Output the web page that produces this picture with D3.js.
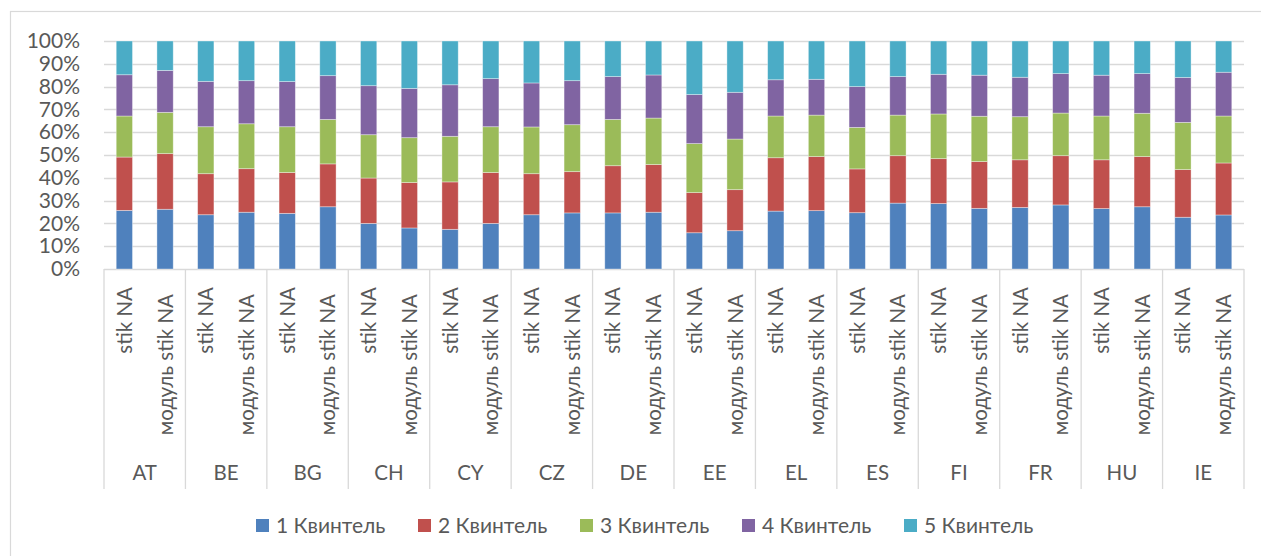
<!DOCTYPE html>
<html>
<head>
<meta charset="utf-8">
<script src="https://cdn.jsdelivr.net/npm/d3@7"></script>
<style>
  html, body { margin: 0; padding: 0; background: #ffffff; }
  svg { display: block; }
  text { font-family: Lato, "Open Sans", sans-serif; fill: #595959; }
</style>
</head>
<body>
<svg id="chart" width="1261" height="556"></svg>
<script>
// Countries (outer category level) and the two measures per country (inner level)
const countries = ["AT", "BE", "BG", "CH", "CY", "CZ", "DE", "EE", "EL", "ES", "FI", "FR", "HU", "IE"];
const measures = ["stik NA", "модуль stik NA"];
const quintiles = ["1 Квинтель", "2 Квинтель", "3 Квинтель", "4 Квинтель", "5 Квинтель"];
const yTicks = [0, 0.1, 0.2, 0.3, 0.4, 0.5, 0.6, 0.7, 0.8, 0.9, 1.0];

// Share of each quintile (%), ordered country by country: stik NA, модуль stik NA
const q1 = [25.7, 26.2, 23.8, 24.9, 24.4, 27.3, 20.0, 18.0, 17.4, 20.0, 23.8, 24.6, 24.6, 24.9,
            15.9, 16.8, 25.4, 25.6, 24.7, 28.9, 28.7, 26.6, 27.0, 28.1, 26.5, 27.3, 22.7, 23.7];
const q2 = [23.4, 24.4, 18.0, 19.1, 17.9, 18.8, 19.9, 19.9, 20.8, 22.3, 18.0, 18.1, 20.7, 20.9,
            17.6, 18.0, 23.4, 23.7, 19.2, 20.8, 19.7, 20.5, 20.9, 21.6, 21.4, 22.0, 20.9, 22.8];
const q3 = [18.0, 18.1, 20.6, 19.7, 20.1, 19.5, 19.0, 19.7, 20.0, 20.1, 20.5, 20.6, 20.3, 20.4,
            21.5, 22.2, 18.3, 18.2, 18.2, 17.8, 19.6, 19.9, 18.9, 18.7, 19.2, 19.0, 20.7, 20.6];
const q4 = [18.1, 18.4, 19.9, 18.9, 19.8, 19.2, 21.5, 21.6, 22.6, 21.1, 19.3, 19.3, 18.8, 18.9,
            21.5, 20.5, 15.9, 15.7, 17.9, 16.9, 17.4, 18.0, 17.3, 17.3, 17.9, 17.4, 19.7, 19.2];
const q5 = [14.8, 12.9, 17.7, 17.4, 17.8, 15.2, 19.6, 20.8, 19.2, 16.5, 18.4, 17.4, 15.6, 14.9,
            23.5, 22.5, 17.0, 16.8, 20.0, 15.6, 14.6, 15.0, 15.9, 14.3, 15.0, 14.3, 16.0, 13.7];

const colors = ["#4F81BD", "#C0504D", "#9BBB59", "#8064A2", "#4BACC6"];

// Build one row per bar
const series = [q1, q2, q3, q4, q5];
const rows = [];
countries.forEach((c, ci) => {
  measures.forEach((m, mi) => {
    const i = ci * measures.length + mi;
    const row = { country: c, measure: m };
    const total = d3.sum(series, s => s[i]);
    quintiles.forEach((q, qi) => { row[q] = series[qi][i] / total; });
    rows.push(row);
  });
});

const svg = d3.select("#chart");

// Plot area
const plot = { left: 104, right: 1244, top: 41, bottom: 269 };

// Chart frame
svg.append("rect")
  .attr("x", 10.5).attr("y", 11.5)
  .attr("width", 1300).attr("height", 600)
  .attr("fill", "none").attr("stroke", "#d9d9d9").attr("stroke-width", 1.2);

const x0 = d3.scaleBand().domain(countries).range([plot.left, plot.right]).padding(0);
const x1 = d3.scaleBand().domain(measures).range([0, x0.bandwidth()])
  .paddingInner(0.6).paddingOuter(0.3);
const y = d3.scaleLinear().domain([0, 1]).range([plot.bottom, plot.top]);

// Horizontal gridlines
svg.append("g")
  .selectAll("line")
  .data(yTicks)
  .join("line")
  .attr("x1", plot.left).attr("x2", plot.right)
  .attr("y1", d => Math.round(y(d)) + 0.5).attr("y2", d => Math.round(y(d)) + 0.5)
  .attr("stroke", "#d9d9d9").attr("stroke-width", 1.3);

// Y axis labels
const yAxis = d3.axisLeft(y).tickValues(yTicks).tickFormat(d3.format(".0%")).tickSize(0).tickPadding(0);
const yg = svg.append("g").attr("transform", `translate(${plot.left - 24},0)`).call(yAxis);
yg.select(".domain").remove();
yg.selectAll("text").attr("font-size", 21).style("font-family", "Lato, sans-serif").attr("fill", "#595959");

// Stacked bars
const stack = d3.stack().keys(quintiles);
const stacked = stack(rows);

svg.append("g")
  .selectAll("g")
  .data(stacked)
  .join("g")
  .attr("fill", (d, i) => colors[i])
  .selectAll("rect")
  .data(d => d)
  .join("rect")
  .attr("x", d => x0(d.data.country) + x1(d.data.measure))
  .attr("width", x1.bandwidth())
  .attr("y", d => y(d[1]))
  .attr("height", d => y(d[0]) - y(d[1]))
  .attr("stroke", "rgba(255,255,255,0.45)")
  .attr("stroke-width", 0.8);

// Category axis: group separators
const sepBottom = 489;
const bounds = countries.map(c => x0(c)).concat([plot.right]);
svg.append("g")
  .selectAll("line")
  .data(bounds)
  .join("line")
  .attr("x1", d => d).attr("x2", d => d)
  .attr("y1", plot.bottom).attr("y2", sepBottom)
  .attr("stroke", "#d9d9d9").attr("stroke-width", 1.3);

// Inner labels (rotated)
const measureEnd = { "stik NA": 287, "модуль stik NA": 294 };
const inner = svg.append("g");
rows.forEach(r => {
  const cx = x0(r.country) + x1(r.measure) + x1.bandwidth() / 2;
  const ty = measureEnd[r.measure];
  inner.append("text")
    .attr("transform", `translate(${cx + 7.5},${ty}) rotate(-90)`)
    .attr("text-anchor", "end")
    .attr("font-size", 20.5)
    .text(r.measure);
});

// Outer labels (countries)
svg.append("g")
  .selectAll("text")
  .data(countries)
  .join("text")
  .attr("x", d => x0(d) + x0.bandwidth() / 2)
  .attr("y", 473)
  .attr("dy", "0.35em")
  .attr("text-anchor", "middle")
  .attr("font-size", 20.5)
  .text(d => d);

// Legend
const legend = svg.append("g");
const legendStart = 256, legendStep = 162, legendY = 519;
quintiles.forEach((q, i) => {
  const g = legend.append("g").attr("transform", `translate(${legendStart + i * legendStep},${legendY})`);
  g.append("rect").attr("width", 13).attr("height", 13).attr("fill", colors[i]);
  g.append("text").attr("x", 20).attr("y", 7).attr("dy", "0.35em").attr("font-size", 21).text(q);
});
</script>
</body>
</html>
